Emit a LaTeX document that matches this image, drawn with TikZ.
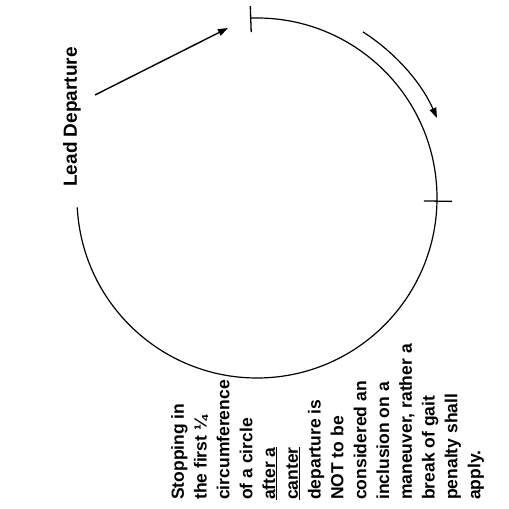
\documentclass[tikz,border=0pt]{standalone}
\usepackage{fontspec}
\setmainfont{Liberation Sans}
\usetikzlibrary{arrows.meta, positioning, calc}

\begin{document}
\begin{tikzpicture}[x=1pt, y=1pt,
  txt/.style={font=\bfseries\fontsize{19}{22.8}\selectfont, inner sep=0pt, rotate=90},
  ring/.style={line width=1.2pt},
  tick/.style={line width=1.3pt},
  tip/.style={-{Triangle[length=10pt, width=7pt]}}]
  \useasboundingbox (0,0) rectangle (509,509);
  % Circle
  \coordinate (c) at (257,311);
  \draw[ring] ($(c)+(92:180)$) arc[start angle=92, end angle=-177, radius=180];
  % Ticks
  \draw[tick] ($(c)+(92:166)$) -- ($(c)+(92:192)$);
  \draw[tick] ($(c)+(-1:167)$) -- ($(c)+(-1:195)$);
  % Direction of travel
  \draw[ring, tip] ($(c)+(57.5:197)$) arc[start angle=57.5, end angle=24, radius=197];
  % Labels
  \node[txt] (lead) at (72,392) {Lead Departure};
  \node[txt, font=\bfseries\fontsize{17.5}{22.8}\selectfont, align=left, anchor=north west]
    (rule) at (171,9)
    {Stopping in\\ the first ¼\\ circumference\\ of a circle\\ \underline{after a}\\
     \underline{canter}\\ departure is\\ NOT to be\\ considered an\\ inclusion on a\\
     maneuver, rather a\\ break of gait\\ penalty shall\\ apply.};
  \coordinate (leadout) at (95,414);
  \coordinate (start) at (228,481);
  \draw[line width=1.4pt, tip] (leadout) -- (start);
\end{tikzpicture}
\end{document}
